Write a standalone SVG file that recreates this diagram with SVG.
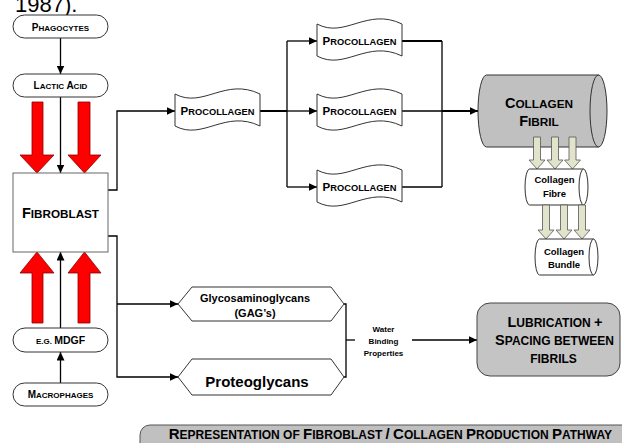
<svg xmlns="http://www.w3.org/2000/svg" width="622" height="443" viewBox="0 0 622 443">
  <style>
    .t { font-family: "Liberation Sans", Arial, sans-serif; font-weight: bold; fill: #000; text-anchor: middle; }
    .ln { stroke: #000; stroke-width: 1.3; fill: none; }
    .thick { stroke-width: 2; }
    .pill { fill: #fff; stroke: #333; stroke-width: 1; }
    .tape { fill: #fff; stroke: #333; stroke-width: 1; }
    .hex { fill: #fff; stroke: #333; stroke-width: 1; }
    .cyl { stroke: #333; stroke-width: 1; }
    .red { fill: #ff0000; stroke: #8a0000; stroke-width: 0.8; }
    .pale { fill: #e2e3cb; stroke: #555; stroke-width: 0.8; }
  </style>
  <defs>
    <marker id="arr" markerUnits="userSpaceOnUse" markerWidth="9" markerHeight="8" refX="8.5" refY="4" orient="auto">
      <path d="M0,0 L8.5,4 L0,8 Z" fill="#000"/>
    </marker>
    <!-- wavy tape outline, origin at left edge, vertical middle -->
    <path id="tapeShape" d="M0,-17 C28,-2 50,-34 85,-17 L85,15 C50,-2 28,30 0,15 Z"/>
  </defs>

  <rect width="622" height="443" fill="#fff"/>

  <!-- trailing line of the preceding paragraph -->
  <text x="15" y="12" style="font-family:'Liberation Sans',Arial,sans-serif;font-size:22px;fill:#000">1987).</text>

  <!-- connectors -->
  <g id="connectors">
    <path class="ln" d="M60.5,38 V74" marker-end="url(#arr)"/>
    <path class="ln" d="M60.5,97 V173" marker-end="url(#arr)"/>
    <path class="ln" d="M60.5,328 V252" marker-end="url(#arr)"/>
    <path class="ln" d="M60.5,383 V352" marker-end="url(#arr)"/>

    <path class="ln" d="M108,190 H117 V111 H175" marker-end="url(#arr)"/>
    <path class="ln thick" d="M260,111 H287"/>
    <path class="ln" d="M287,41 V187"/>
    <path class="ln" d="M287,41 H317" marker-end="url(#arr)"/>
    <path class="ln" d="M287,111 H317" marker-end="url(#arr)"/>
    <path class="ln" d="M287,187 H317" marker-end="url(#arr)"/>

    <path class="ln thick" d="M402,41 H442"/>
    <path class="ln" d="M402,111 H442"/>
    <path class="ln" d="M402,187 H442"/>
    <path class="ln" d="M442,41 V187"/>
    <path class="ln thick" d="M442,111 H478" marker-end="url(#arr)"/>

    <path class="ln" d="M108,236 H117 V377 H178" marker-end="url(#arr)"/>
    <path class="ln" d="M117,304 H178" marker-end="url(#arr)"/>

    <path class="ln" d="M344,304 H346 V377 H344"/>
    <path class="ln" d="M346,340 H355"/>
    <path class="ln" d="M412,340 H477" marker-end="url(#arr)"/>

    <!-- red stimulus arrows -->
    <polygon class="red" points="32,102 43,102 43,155 54,155 37,173 20,155 32,155"/>
    <polygon class="red" points="78,102 90,102 90,155 101,155 84.5,173 68,155 78,155"/>
    <polygon class="red" points="32,323 43,323 43,273 54,273 37,252 20,273 32,273"/>
    <polygon class="red" points="78,323 90,323 90,273 101,273 84.5,252 68,273 78,273"/>
  </g>

  <g id="phagocytes">
    <rect class="pill" x="13" y="15" width="95" height="23" rx="11.5"/>
    <text class="t" x="60.5" y="30.6" font-size="8"><tspan font-size="10">P</tspan>HAGOCYTES</text>
  </g>

  <g id="lactic-acid">
    <rect class="pill" x="13" y="74" width="95" height="23" rx="11.5"/>
    <text class="t" x="60.5" y="89" font-size="8"><tspan font-size="10">L</tspan>ACTIC <tspan font-size="10">A</tspan>CID</text>
  </g>

  <g id="fibroblast">
    <rect x="13" y="173" width="95" height="79" fill="#fff" stroke="#666" stroke-width="1"/>
    <text class="t" x="60.5" y="218" font-size="11.7"><tspan font-size="14.5">F</tspan>IBROBLAST</text>
  </g>

  <g id="mdgf">
    <rect class="pill" x="13" y="328" width="95" height="24" rx="12"/>
    <text class="t" x="60.5" y="343.6" font-size="8">E.G. <tspan font-size="10.5">MDGF</tspan></text>
  </g>

  <g id="macrophages">
    <rect class="pill" x="13" y="383" width="95" height="23" rx="11.5"/>
    <text class="t" x="60.5" y="398" font-size="8"><tspan font-size="10">M</tspan>ACROPHAGES</text>
  </g>

  <g id="procollagen-1">
    <use href="#tapeShape" class="tape" transform="translate(175,111)"/>
    <text class="t" x="217.5" y="115" font-size="9.3"><tspan font-size="11.5">P</tspan>ROCOLLAGEN</text>
  </g>
  <g id="procollagen-2">
    <use href="#tapeShape" class="tape" transform="translate(317,41)"/>
    <text class="t" x="359.5" y="45" font-size="9.3"><tspan font-size="11.5">P</tspan>ROCOLLAGEN</text>
  </g>
  <g id="procollagen-3">
    <use href="#tapeShape" class="tape" transform="translate(317,111)"/>
    <text class="t" x="359.5" y="115" font-size="9.3"><tspan font-size="11.5">P</tspan>ROCOLLAGEN</text>
  </g>
  <g id="procollagen-4">
    <use href="#tapeShape" class="tape" transform="translate(317,187)"/>
    <text class="t" x="359.5" y="191" font-size="9.3"><tspan font-size="11.5">P</tspan>ROCOLLAGEN</text>
  </g>

  <g id="collagen-fibril">
    <path class="cyl" fill="#c0c0c0" d="M486.5,75 H598.5 A8.5,36 0 0 1 598.5,147 H486.5 A8.5,36 0 0 1 486.5,75 Z"/>
    <path class="cyl" fill="none" d="M598.5,75 A8.5,36 0 0 0 598.5,147"/>
    <text class="t" x="539" y="108" font-size="11.8"><tspan font-size="14.5">C</tspan>OLLAGEN</text>
    <text class="t" x="539" y="126" font-size="11.8"><tspan font-size="14.5">F</tspan>IBRIL</text>
  </g>

  <g id="fibril-to-fibre">
    <polygon class="pale" points="533.5,137 540.5,137 540.5,160 545,160 537,169 529,160 533.5,160"/>
    <polygon class="pale" points="551.5,137 558.5,137 558.5,160 563,160 555,169 547,160 551.5,160"/>
    <polygon class="pale" points="569,137 576,137 576,160 580.5,160 572.5,169 564.5,160 569,160"/>
  </g>

  <g id="collagen-fibre">
    <path class="cyl" fill="#fff" d="M529.5,169 H583.5 A4.5,18 0 0 1 583.5,205 H529.5 A4.5,18 0 0 1 529.5,169 Z"/>
    <path class="cyl" fill="none" d="M583.5,169 A4.5,18 0 0 0 583.5,205"/>
    <text class="t" x="554.5" y="183" font-size="9.5">Collagen</text>
    <text class="t" x="554.5" y="197" font-size="9.5">Fibre</text>
  </g>

  <g id="fibre-to-bundle">
    <polygon class="pale" points="542.5,205 549.5,205 549.5,230 554,230 546,239 538,230 542.5,230"/>
    <polygon class="pale" points="560.5,205 567.5,205 567.5,230 572,230 564,239 556,230 560.5,230"/>
    <polygon class="pale" points="578.5,205 585.5,205 585.5,230 590,230 582,239 574,230 578.5,230"/>
  </g>

  <g id="collagen-bundle">
    <path class="cyl" fill="#fff" d="M539.5,239 H593.5 A4.5,18 0 0 1 593.5,275 H539.5 A4.5,18 0 0 1 539.5,239 Z"/>
    <path class="cyl" fill="none" d="M593.5,239 A4.5,18 0 0 0 593.5,275"/>
    <text class="t" x="564" y="255" font-size="9.5">Collagen</text>
    <text class="t" x="564" y="268" font-size="9.5">Bundle</text>
  </g>

  <g id="glycosaminoglycans">
    <polygon class="hex" points="178,304 192,287 331,287 344,304 331,321 192,321"/>
    <text class="t" x="255" y="302" font-size="11">Glycosaminoglycans</text>
    <text class="t" x="255" y="317" font-size="11">(GAG’s)</text>
  </g>

  <g id="proteoglycans">
    <polygon class="hex" points="178,377 192,359 331,359 344,377 331,395 192,395"/>
    <text class="t" x="257" y="387" font-size="15">Proteoglycans</text>
  </g>

  <g id="water-binding">
    <text class="t" x="383.5" y="332" font-size="8">Water</text>
    <text class="t" x="383.5" y="344" font-size="8">Binding</text>
    <text class="t" x="383.5" y="355.5" font-size="8">Properties</text>
  </g>

  <g id="lubrication">
    <rect x="477" y="303" width="143" height="73" rx="13" fill="#c4c4c4" stroke="#444" stroke-width="1"/>
    <text class="t" x="555" y="327" font-size="12"><tspan font-size="14.5">L</tspan>UBRICATION <tspan font-size="14.5">+</tspan></text>
    <text class="t" x="554.5" y="345" font-size="12"><tspan font-size="14.5">S</tspan>PACING BETWEEN</text>
    <text class="t" x="553.5" y="363" font-size="12">FIBRILS</text>
  </g>

  <g id="caption">
    <rect x="140" y="425" width="500" height="30" rx="10" fill="#c0c0c0" stroke="#555" stroke-width="1"/>
    <text class="t" x="612" y="439" font-size="12" style="text-anchor:end"><tspan font-size="15">R</tspan>EPRESENTATION OF <tspan font-size="15">F</tspan>IBROBLAST <tspan font-size="15">/</tspan> <tspan font-size="15">C</tspan>OLLAGEN <tspan font-size="15">P</tspan>RODUCTION <tspan font-size="15">P</tspan>ATHWAY</text>
  </g>
</svg>
